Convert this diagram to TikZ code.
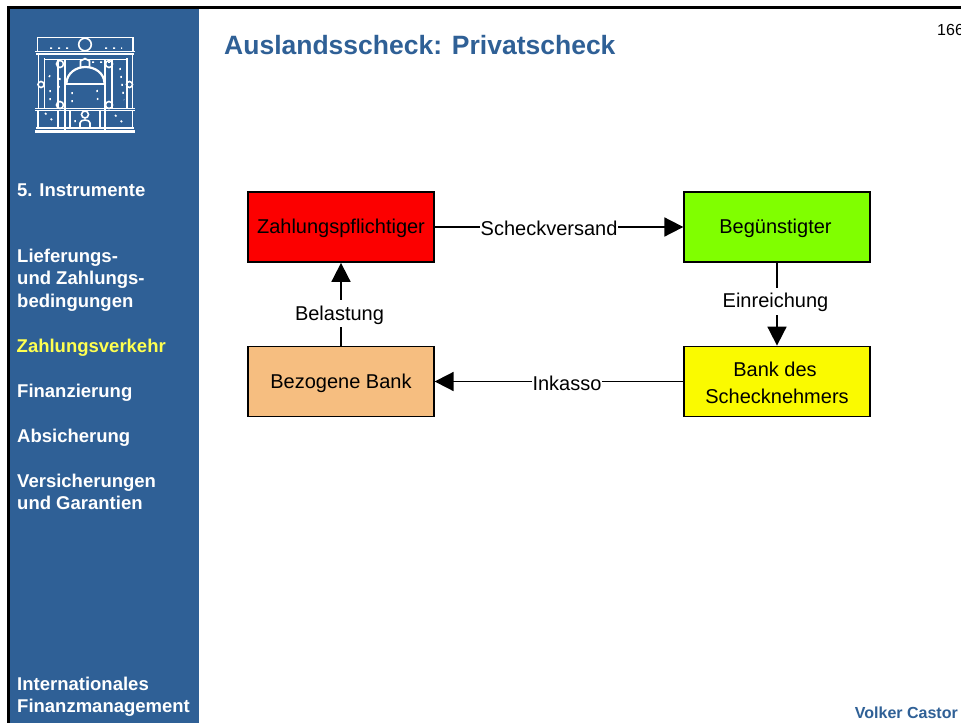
\documentclass[tikz,border=0pt]{standalone}
\usepackage{fontspec}
\setmainfont{Liberation Sans}
\usetikzlibrary{arrows.meta}
\newcommand{\flowtext}[1]{\raisebox{-1.5pt}[\height][\depth]{#1}}
\definecolor{sidebar}{HTML}{2F6096}
\definecolor{navyellow}{HTML}{FFFF50}
\definecolor{payred}{HTML}{FC0000}
\definecolor{paygreen}{HTML}{80FF00}
\definecolor{payorange}{HTML}{F6BE80}
\definecolor{payyellow}{HTML}{FAFA00}
\tikzset{
  navitem/.style={anchor=base west,inner sep=0pt,text=white,font=\fontsize{18.5}{22}\selectfont\bfseries},
  navactive/.style={navitem,text=navyellow},
  flowbox/.style={draw=black,line width=1.8pt,minimum width=185.5pt,minimum height=70pt,inner sep=0pt,align=center,font=\fontsize{20}{27}\selectfont},
  flowarrow/.style={line width=1.8pt,draw=black,-{Triangle[length=19pt,width=19pt,fill=black]}},
  flowlabel/.style={fill=white,inner xsep=0.5pt,inner ysep=4pt,font=\fontsize{20}{22}\selectfont,text=black},
  logoline/.style={draw=white,line width=1.6pt},
  logodots/.style={draw=white,line width=1.5pt,dash pattern=on 2pt off 6pt}
}
\begin{document}
\begin{tikzpicture}[x=1pt,y=-1pt]
\useasboundingbox (0,0) rectangle (961,723);
\clip (0,0) rectangle (961,723);
\fill[white] (0,0) rectangle (961,723);
\fill[sidebar] (9,8) rectangle (199,723);
\fill[black] (7,6) rectangle (961,9);
\fill[black] (7,6) rectangle (10,723);
% logo
\begin{scope}
\draw[logoline] (37.5,50.5) -- (37.5,37.5) -- (133,37.5) -- (133,50.5);
\draw[logoline] (35,51.5) -- (135,51.5);
\draw[logoline] (36,54) -- (134,54);
\draw[logoline] (85,44.5) circle (6.3);
\draw[logoline] (38.5,54) -- (38.5,109) (44.5,58) -- (44.5,109) (127,58) -- (127,109) (132.5,54) -- (132.5,109);
\draw[logoline] (44.5,59.5) -- (127,59.5);
\draw[logoline,line width=2pt] (64.5,60) -- (64.5,130) (105,60) -- (105,130);
\draw[logoline] (58,60) -- (58,108) (112,60) -- (112,109);
\draw[logoline,line width=2.2pt] (66.5,83) .. controls (67,73) and (76,67) .. (85.5,67) .. controls (95,67) and (104,73) .. (104.5,83);
\draw[logoline,line width=2pt] (65.5,84) -- (105,84);
\draw[logoline] (60,64) circle (3.5) (109,64) circle (3.5) (41,84.5) circle (3) (129.5,84.5) circle (3) (60,105) circle (3.5) (109,105) circle (3.5);
\draw[logoline] (85,114.5) circle (3.5);
\draw[logoline] (80.5,67) -- (80.5,61) -- (85,58.5) -- (89.5,61) -- (89.5,67);
\draw[logoline] (80,128) -- (80,123) .. controls (80,119) and (90,119) .. (90,123) -- (90,128);
\draw[logoline] (35,108.5) -- (135,108.5);
\draw[logoline] (35,110.5) -- (135,110.5);
\draw[logoline] (38,111) -- (38,127) (132.5,111) -- (132.5,127);
\draw[logoline] (58,111) -- (58,129) (100,111) -- (100,129) (70,111) -- (70,129);
\draw[logoline] (36,128) -- (134,128);
\draw[logoline,line width=2.2pt] (35,131.5) -- (135,131.5);
\draw[logodots] (49,77) -- (53,71) (50,90) -- (50,100) (60,78) -- (58,95) (92,62) -- (115,62) (120,68) -- (124,100) (72,92) -- (72,104) (97,90) -- (98,104) (75,120) -- (75,128) (115,115) -- (125,125) (45,113) -- (52,120) (50,48) -- (70,48) (105,48) -- (122,48);
\end{scope}
% nav
\node[navitem] (n1) at (17,196) {5. Instrumente};
\node[navitem] (n2) at (17,262) {Lieferungs-};
\node[navitem] (n3) at (17,284.5) {und Zahlungs-};
\node[navitem] (n4) at (17,307) {bedingungen};
\node[navactive] (n5) at (16.5,352) {Zahlungsverkehr};
\node[navitem] (n6) at (17,397) {Finanzierung};
\node[navitem] (n7) at (17,442) {Absicherung};
\node[navitem] (n8) at (17,487) {Versicherungen};
\node[navitem] (n9) at (17,509) {und Garantien};
\node[navitem] (n10) at (17,690) {Internationales};
\node[navitem] (n11) at (17,712) {Finanzmanagement};
% title
\node[anchor=base west,inner sep=0pt,text=sidebar,font=\fontsize{26.5}{30}\selectfont\bfseries] (title) at (224,54) {Auslandsscheck: Privatscheck};
\node[anchor=base west,inner sep=0pt,font=\fontsize{16}{18}\selectfont] (page) at (937,35) {166};
\node[anchor=base east,inner sep=0pt,text=sidebar,font=\fontsize{16}{18}\selectfont\bfseries] (author) at (958,718) {Volker Castor};
% boxes
\node[flowbox,fill=payred] (zp) at (341,227) {\flowtext{Zahlungspflichtiger}};
\node[flowbox,fill=paygreen] (bg) at (777,227) {\flowtext{Begünstigter\hspace{3pt}}};
\node[flowbox,fill=payorange] (bb) at (341,381.5) {\flowtext{Bezogene Bank}};
\node[flowbox,fill=payyellow] (bs) at (777,381.5) {\flowtext{Bank des\hspace{4pt}}\\\flowtext{Schecknehmers}};
% connectors
\draw[flowarrow] (zp) -- node[flowlabel,pos=0.46] (l1) {\flowtext{Scheckversand}} (bg);
\draw[flowarrow] (bg) -- node[flowlabel,pos=0.464,xshift=-1.5pt] (l2) {\flowtext{Einreichung}} (bs);
\draw[flowarrow] (bs) -- node[flowlabel,pos=0.468] (l3) {\flowtext{Inkasso}} (bb);
\draw[flowarrow] (bb) -- node[flowlabel,pos=0.39,xshift=-1.5pt] (l4) {\flowtext{Belastung}} (zp);
\end{tikzpicture}
\end{document}
